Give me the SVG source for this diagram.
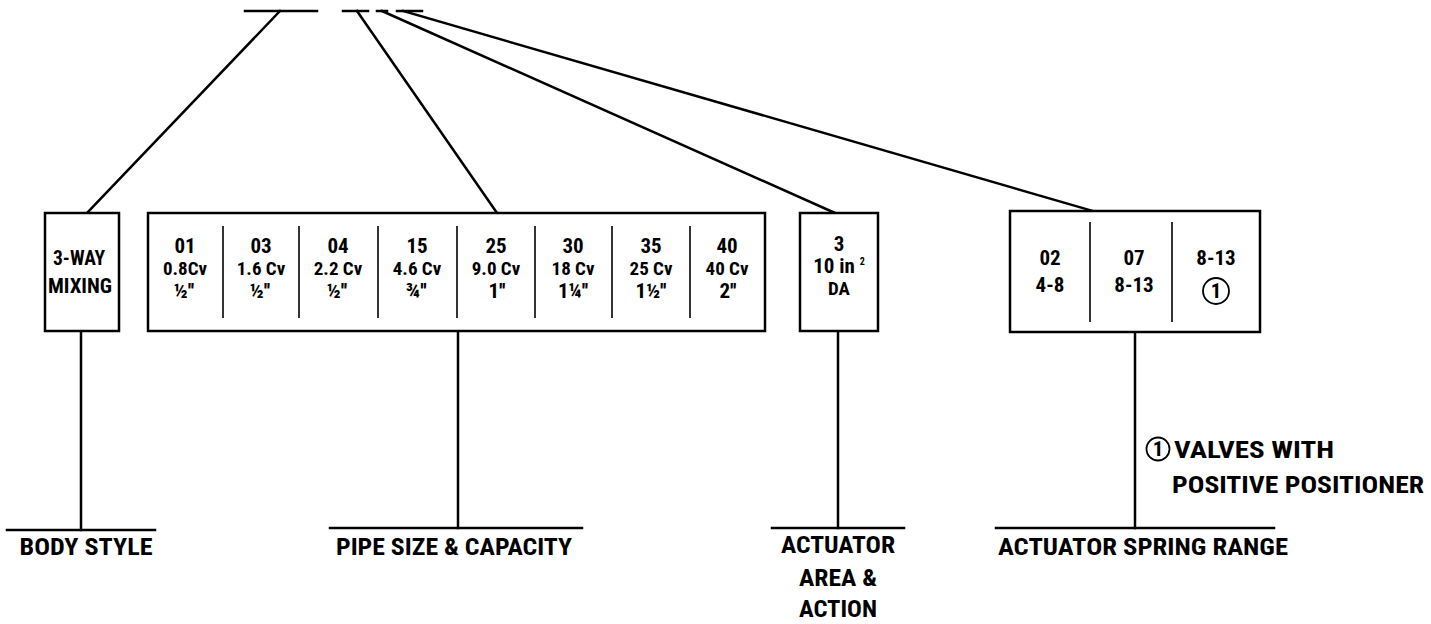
<svg xmlns="http://www.w3.org/2000/svg" width="1431" height="624" viewBox="0 0 1431 624">
<style>
.bg{fill:#fff}
.ln{stroke:#000;stroke-width:2.5;fill:none;stroke-linecap:square}
.box{stroke:#000;stroke-width:2.5;fill:#fff}
.div{stroke:#000;stroke-width:1.6}
.circ{fill:none;stroke:#000;stroke-width:1.8}
text{font-family:"Liberation Sans Narrow","Roboto Condensed","Liberation Sans",Arial,sans-serif;font-weight:bold;fill:#000;text-anchor:middle}
.t1{font-size:21px}
.t2{font-size:19px}
.t3{font-size:21px}
.lab{font-size:24px}
.note{font-size:24px;text-anchor:start}
</style>
<rect class="bg" x="0" y="0" width="1431" height="624"/>
<g id="connectors">
  <line class="ln" x1="245" y1="11" x2="317" y2="11"/>
  <line class="ln" x1="343" y1="11" x2="368" y2="11"/>
  <line class="ln" x1="377" y1="11" x2="387" y2="11"/>
  <line class="ln" x1="397" y1="11" x2="422" y2="11"/>
  <line class="ln" x1="280" y1="11" x2="87" y2="213"/>
  <line class="ln" x1="357" y1="11" x2="497" y2="213"/>
  <line class="ln" x1="382" y1="11" x2="835" y2="213"/>
  <line class="ln" x1="403" y1="11" x2="1093" y2="211"/>
  <line class="ln" x1="81" y1="331" x2="81" y2="530"/>
  <line class="ln" x1="7" y1="530" x2="155" y2="530"/>
  <line class="ln" x1="458" y1="331" x2="458" y2="528"/>
  <line class="ln" x1="330" y1="528" x2="582" y2="528"/>
  <line class="ln" x1="838" y1="331" x2="838" y2="528"/>
  <line class="ln" x1="772" y1="528" x2="904" y2="528"/>
  <line class="ln" x1="1135" y1="332" x2="1135" y2="528"/>
  <line class="ln" x1="996" y1="528" x2="1274" y2="528"/>
</g>
<g id="body-style">
  <rect class="box" x="45" y="213" width="74" height="118"/>
  <text class="t1" x="79" y="265" textLength="52" lengthAdjust="spacingAndGlyphs">3-WAY</text>
  <text class="t1" x="80" y="293" textLength="64" lengthAdjust="spacingAndGlyphs">MIXING</text>
  <text class="lab" x="86" y="555" textLength="133" lengthAdjust="spacingAndGlyphs">BODY STYLE</text>
</g>
<g id="pipe-size">
  <rect class="box" x="148" y="213" width="617" height="118"/>
  <line class="div" x1="223" y1="226" x2="223" y2="318"/>
  <line class="div" x1="299" y1="226" x2="299" y2="318"/>
  <line class="div" x1="378" y1="226" x2="378" y2="318"/>
  <line class="div" x1="457" y1="226" x2="457" y2="318"/>
  <line class="div" x1="535" y1="226" x2="535" y2="318"/>
  <line class="div" x1="612" y1="226" x2="612" y2="318"/>
  <line class="div" x1="690" y1="226" x2="690" y2="318"/>
  <text class="t1" x="185" y="253">01</text>
  <text class="t2" x="185" y="275">0.8Cv</text>
  <text class="t3" x="184" y="298">½''</text>
  <text class="t1" x="261" y="253">03</text>
  <text class="t2" x="261" y="275">1.6 Cv</text>
  <text class="t3" x="260" y="298">½''</text>
  <text class="t1" x="338" y="253">04</text>
  <text class="t2" x="338" y="275">2.2 Cv</text>
  <text class="t3" x="337" y="298">½''</text>
  <text class="t1" x="417" y="253">15</text>
  <text class="t2" x="417" y="275">4.6 Cv</text>
  <text class="t3" x="416" y="298">¾''</text>
  <text class="t1" x="496" y="253">25</text>
  <text class="t2" x="496" y="275">9.0 Cv</text>
  <text class="t3" x="497" y="298">1''</text>
  <text class="t1" x="573" y="253">30</text>
  <text class="t2" x="573" y="275">18 Cv</text>
  <text class="t3" x="573" y="298">1¼''</text>
  <text class="t1" x="651" y="253">35</text>
  <text class="t2" x="651" y="275">25 Cv</text>
  <text class="t3" x="651" y="298">1½''</text>
  <text class="t1" x="727" y="253">40</text>
  <text class="t2" x="727" y="275">40 Cv</text>
  <text class="t3" x="728" y="298">2''</text>
  <text class="lab" x="454" y="555" textLength="236" lengthAdjust="spacingAndGlyphs">PIPE SIZE &amp; CAPACITY</text>
</g>
<g id="actuator-area">
  <rect class="box" x="800" y="213" width="78" height="118"/>
  <text class="t1" x="839" y="251">3</text>
  <text class="t1" x="839" y="273">10 in <tspan font-size="10" dy="-8">2</tspan></text>
  <text class="t2" x="839" y="295">DA</text>
  <text class="lab" x="838" y="553" textLength="114" lengthAdjust="spacingAndGlyphs">ACTUATOR</text>
  <text class="lab" x="838" y="586" textLength="78" lengthAdjust="spacingAndGlyphs">AREA &amp;</text>
  <text class="lab" x="838" y="617" textLength="78" lengthAdjust="spacingAndGlyphs">ACTION</text>
</g>
<g id="spring-range">
  <rect class="box" x="1010" y="211" width="250" height="121"/>
  <line class="div" x1="1090" y1="222" x2="1090" y2="322"/>
  <line class="div" x1="1172" y1="222" x2="1172" y2="322"/>
  <text class="t1" x="1050" y="265">02</text>
  <text class="t1" x="1050" y="292">4-8</text>
  <text class="t1" x="1134" y="265">07</text>
  <text class="t1" x="1134" y="292">8-13</text>
  <text class="t1" x="1216" y="265">8-13</text>
  <circle class="circ" cx="1216" cy="291" r="13"/>
  <text class="t1" x="1216" y="298">1</text>
  <text class="lab" x="1143" y="555" textLength="290" lengthAdjust="spacingAndGlyphs">ACTUATOR SPRING RANGE</text>
</g>
<g id="note">
  <circle class="circ" cx="1158" cy="449" r="11.5"/>
  <text class="t1" x="1158" y="456">1</text>
  <text class="note" x="1174" y="458" textLength="160" lengthAdjust="spacingAndGlyphs">VALVES WITH</text>
  <text class="note" x="1172" y="493" textLength="252" lengthAdjust="spacingAndGlyphs">POSITIVE POSITIONER</text>
</g>
</svg>
